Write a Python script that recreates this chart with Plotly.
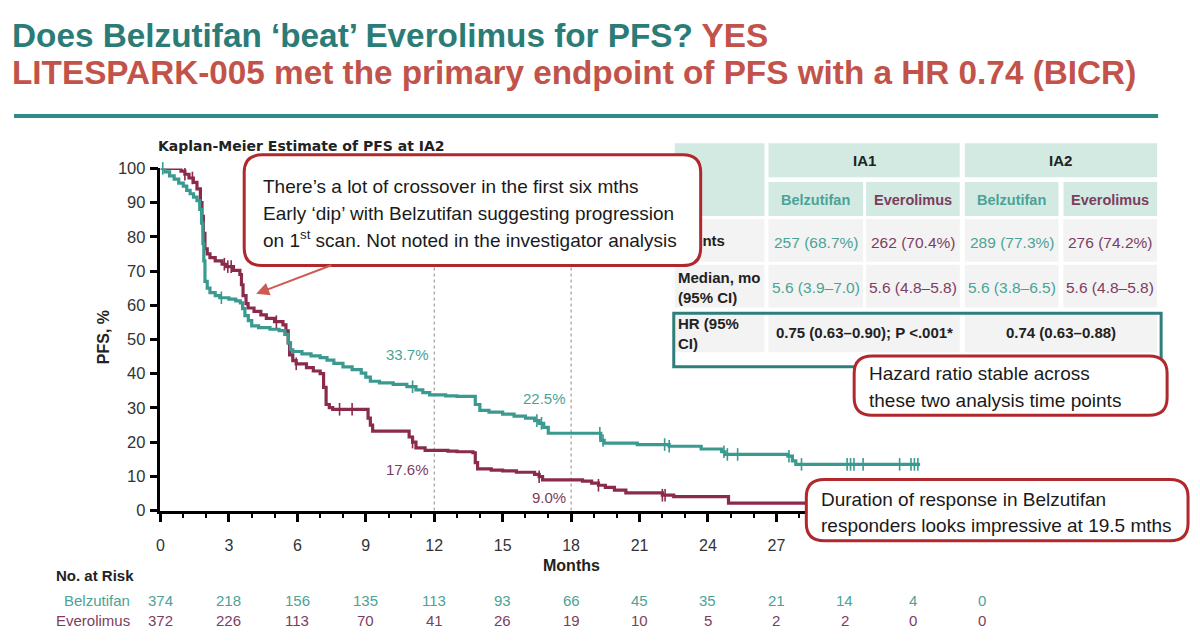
import numpy as np
import plotly.graph_objects as go

# ---------------- data ----------------
belz_t = [0, 0.2, 0.4, 0.6, 0.8, 1.0, 1.15, 1.3, 1.45, 1.6, 1.72, 1.8, 1.86, 1.9, 1.95, 2.05, 2.17,
          2.4, 2.6, 3.0, 3.3, 3.5, 3.6, 3.7, 3.85, 4.0, 4.3, 4.8, 5.2, 5.45, 5.6, 5.7, 5.8, 6.2, 6.6,
          7.0, 7.3, 7.6, 8.0, 8.4, 8.8, 9.0, 9.2, 9.6, 10.2, 10.8, 11.2, 11.5, 11.8, 12.5, 13.0, 13.8,
          14.0, 14.4, 15.0, 15.5, 16.0, 16.4, 16.6, 16.8, 17.0, 19.3, 19.45, 20.9, 22.3, 23.7, 24.6,
          24.75, 27.5, 27.7, 27.85]
belz_s = [100, 99.0, 97.8, 96.9, 95.7, 94.8, 93.6, 92.6, 91.6, 90.6, 88, 84, 78, 73, 67, 65, 63.7,
          62.8, 62.2, 61.8, 61.3, 60.7, 59, 57, 55.5, 54, 53.5, 53.0, 52.6, 51.5, 49, 47, 46.5, 45.8, 45.2,
          44.7, 44.0, 43.0, 42.0, 41.2, 40.2, 39.0, 37.8, 37.3, 36.9, 36.2, 35.3, 34.5, 33.8, 33.5, 33.4, 31,
          29.3, 28.8, 28.2, 27.6, 27.0, 26.3, 25.5, 24.3, 22.6, 20.5, 19.7, 19.3, 18.8, 18.0, 17.2,
          16.4, 15.9, 14.5, 13.5]
belz_end = 33.3

ever_t = [0, 0.9, 1.07, 1.25, 1.44, 1.6, 1.75, 1.82, 1.88, 1.95, 2.05, 2.17, 2.4, 2.7, 2.9, 3.2, 3.48,
          3.55, 3.62, 3.75, 3.84, 4.1, 4.4, 4.64, 5.0, 5.37, 5.5, 5.6, 5.66, 5.8, 5.95, 6.4, 6.7, 7.0,
          7.15, 7.26, 7.4, 7.55, 9.1, 9.2, 9.3, 10.9, 11.05, 11.2, 11.6, 12.6, 13.0, 13.7, 13.8, 13.9,
          14.5, 15.0, 15.6, 16.4, 16.6, 16.75, 18.5, 18.9, 19.2, 19.5, 19.9, 20.4, 22.0, 22.5, 24.9]
ever_s = [100, 99.2, 98.3, 97.2, 95.9, 94, 90, 86, 81, 76.5, 75, 73.9, 73, 72, 71.3, 70.2, 69,
          66, 62.8, 60.5, 59.2, 58.2, 57.2, 56.2, 55.2, 54.3, 52.5, 49, 45.5, 43.8, 42.9, 41.8, 40.8, 40.0,
          36, 31, 30.1, 29.6, 27, 25, 23.2, 21.5, 20, 18.3, 17.6, 17.4, 17.2, 16.9, 14, 12.2,
          11.8, 11.6, 11.2, 10.6, 9.9, 9.0, 8.6, 8.0, 7.4, 6.8, 6.0, 5.2, 4.5, 4.1, 2.2]
ever_end = 31.0

belz_censor = [0.1, 2.67, 11.05, 16.5, 16.7, 19.26, 19.4, 22.1, 22.3, 24.7, 24.85, 25.3, 27.55,
               28.1, 30.1, 30.25, 30.4, 30.8, 32.4, 32.9, 33.05, 33.2]
ever_censor = [1.07, 1.4, 2.8, 2.95, 3.1, 5.08, 5.95, 7.85, 8.4, 11.05, 16.6, 19.2, 22.0, 22.12]

landmark_months = [12, 18]
belz_landmark = ["33.7%", "22.5%"]
ever_landmark = ["17.6%", "9.0%"]

risk_months = [0, 3, 6, 9, 12, 15, 18, 21, 24, 27, 30, 33, 36]
belz_risk = [374, 218, 156, 135, 113, 93, 66, 45, 35, 21, 14, 4, 0]
ever_risk = [372, 226, 113, 70, 41, 26, 19, 10, 5, 2, 2, 0, 0]
axis_labels = ["0", "3", "6", "9", "12", "15", "18", "21", "24", "27", "", "", ""]

table_groups = ["IA1", "IA2"]
table_arms = ["Belzutifan", "Everolimus", "Belzutifan", "Everolimus"]
table_rows = ["Events", "Median, mo<br>(95% CI)", "HR (95%<br>CI)"]
events = ["257 (68.7%)", "262 (70.4%)", "289 (77.3%)", "276 (74.2%)"]
medians = ["5.6 (3.9–7.0)", "5.6 (4.8–5.8)", "5.6 (3.8–6.5)", "5.6 (4.8–5.8)"]
hrs = ["0.75 (0.63–0.90); P <.001*", "0.74 (0.63–0.88)"]

# ---------------- style ----------------
TEAL = "#3a9a90"
TEAL_TXT = "#4aa396"
MAROON = "#8a2a4c"
MAROON_TXT = "#7d3d5f"
TITLE_TEAL = "#2b7c77"
TITLE_RED = "#c2534a"
BOX_RED = "#b0282c"
ARIAL = "Liberation Sans, Arial, sans-serif"
W, H = 1200, 644

fig = go.Figure()


def step_xy(t, s, end):
    return list(t) + [end], list(s) + [s[-1]]


def censor_y(t, s, c):
    idx = np.searchsorted(np.array(t), np.array(c), side="right") - 1
    return [s[i] for i in idx]


for t, s, end, cens, col, name in [
    (ever_t, ever_s, ever_end, ever_censor, MAROON, "Everolimus"),
    (belz_t, belz_s, belz_end, belz_censor, TEAL, "Belzutifan"),
]:
    x, y = step_xy(t, s, end)
    fig.add_trace(go.Scatter(x=x, y=y, mode="lines", line=dict(color=col, width=3.2, shape="hv"),
                             name=name, showlegend=False, cliponaxis=False))
    fig.add_trace(go.Scatter(x=cens, y=censor_y(t, s, cens), mode="markers",
                             marker=dict(symbol="line-ns", size=9, line=dict(color=col, width=1.6)),
                             showlegend=False, cliponaxis=False))

# "Events" row label partially hidden behind the callout box (drawn as a trace so the box can cover it)
fig.add_trace(go.Scatter(x=[674], y=[240], mode="text", text=["<b>" + table_rows[0] + "</b>"],
                         textposition="middle right", textfont=dict(family=ARIAL, size=15, color="#222"),
                         xaxis="x2", yaxis="y2", showlegend=False, cliponaxis=False, hoverinfo="skip"))

x0px, x1px = 157, 981
y0px, y1px = 516, 164
fig.update_layout(
    width=W, height=H, margin=dict(l=0, r=0, t=0, b=0),
    paper_bgcolor="white", plot_bgcolor="rgba(0,0,0,0)",
    xaxis=dict(domain=[x0px / W, x1px / W], range=[0, 36], tickvals=risk_months, ticktext=axis_labels,
               ticks="outside", ticklen=9, tickwidth=2.5, tickcolor="black",
               showline=True, linewidth=2.5, linecolor="black", showgrid=False, zeroline=False,
               tickfont=dict(family=ARIAL, size=16, color="#333"), ticklabelstandoff=9,
               minor=dict(dtick=1, tick0=0, ticks="outside", ticklen=5, tickwidth=2, tickcolor="black"),
               anchor="y", fixedrange=True),
    yaxis=dict(domain=[1 - y0px / H, 1 - y1px / H], range=[0, 100], dtick=10,
               ticks="outside", ticklen=8, tickwidth=2.5, tickcolor="black",
               showline=True, linewidth=2.5, linecolor="black", showgrid=False, zeroline=False,
               tickfont=dict(family=ARIAL, size=16.5, color="#333"), ticklabelstandoff=1,
               anchor="x", fixedrange=True),
    xaxis2=dict(domain=[0, 1], range=[0, W], visible=False, anchor="y2", fixedrange=True),
    yaxis2=dict(domain=[0, 1], range=[H, 0], visible=False, anchor="x2", fixedrange=True),
)

shapes = []
ann = []


def rrect(x0, y0, x1, y1, r):
    return (f"M{x0 + r},{y0} L{x1 - r},{y0} Q{x1},{y0} {x1},{y0 + r} L{x1},{y1 - r} "
            f"Q{x1},{y1} {x1 - r},{y1} L{x0 + r},{y1} Q{x0},{y1} {x0},{y1 - r} "
            f"L{x0},{y0 + r} Q{x0},{y0} {x0 + r},{y0} Z")


def box(x0, y0, x1, y1, layer="below", fill=None, line=None, lw=0):
    shapes.append(dict(type="rect", xref="x2", yref="y2", x0=x0, y0=y0, x1=x1, y1=y1,
                       fillcolor=fill or "rgba(0,0,0,0)", line=dict(color=line or "rgba(0,0,0,0)", width=lw),
                       layer=layer))


def text(x, y, s, size=15, color="#222", family=ARIAL, xanchor="left", bold=False):
    ann.append(dict(x=x, y=y, xref="x2", yref="y2", text=("<b>" + s + "</b>") if bold else s,
                    showarrow=False, xanchor=xanchor, yanchor="middle",
                    font=dict(family=family, size=size, color=color)))


# title + rule
ann.append(dict(x=6, y=27, xref="x2", yref="y2", xanchor="left", yanchor="middle", showarrow=False,
                text=f"<b>Does Belzutifan ‘beat’ Everolimus for PFS? <span style='color:{TITLE_RED}'>YES</span></b>",
                font=dict(family=ARIAL, size=33.3, color=TITLE_TEAL)))
ann.append(dict(x=6, y=65, xref="x2", yref="y2", xanchor="left", yanchor="middle", showarrow=False,
                text="<b>LITESPARK-005 met the primary endpoint of PFS with a HR 0.74 (BICR)</b>",
                font=dict(family=ARIAL, size=33.3, color=TITLE_RED)))
shapes.append(dict(type="line", xref="x2", yref="y2", x0=10, x1=1158, y0=110, y1=110,
                   line=dict(color="#2f8b85", width=4)))

# chart title and axis titles
text(153, 141, "Kaplan-Meier Estimate of PFS at IA2", size=14, family="DejaVu Sans", bold=True, color="#222")
ann.append(dict(x=100, y=338, xref="x2", yref="y2", text="<b>PFS, %</b>", textangle=-90, showarrow=False,
                font=dict(family=ARIAL, size=16, color="#222")))
text(569, 573, "Months", size=16, bold=True, xanchor="center")

# landmark lines + labels
for m in landmark_months:
    shapes.append(dict(type="line", xref="x", yref="y", x0=m, x1=m, y0=0, y1=100, layer="below",
                       line=dict(color="#8a8a8a", width=1, dash="dot")))
belz_lab_y = [45.7, 32.7]
ever_lab_y = [11.9, 3.7]
for i, m in enumerate(landmark_months):
    ann.append(dict(x=m - 0.15, y=belz_lab_y[i], xref="x", yref="y", text=belz_landmark[i], showarrow=False,
                    xanchor="right", font=dict(family=ARIAL, size=15, color=TEAL_TXT)))
    ann.append(dict(x=m - 0.15, y=ever_lab_y[i], xref="x", yref="y", text=ever_landmark[i], showarrow=False,
                    xanchor="right", font=dict(family=ARIAL, size=15, color=MAROON_TXT)))

# number at risk
text(50, 583, "No. at Risk", size=15, bold=True)
text(128, 608, "Belzutifan", size=15, color=TEAL_TXT, xanchor="right")
text(128, 629, "Everolimus", size=15, color=MAROON_TXT, xanchor="right")
for i, m in enumerate(risk_months):
    ann.append(dict(x=m, y=608, xref="x", yref="y2", text=str(belz_risk[i]), showarrow=False,
                    xanchor="center", yanchor="middle", font=dict(family=ARIAL, size=15, color=TEAL_TXT)))
    ann.append(dict(x=m, y=629, xref="x", yref="y2", text=str(ever_risk[i]), showarrow=False,
                    xanchor="center", yanchor="middle", font=dict(family=ARIAL, size=15, color=MAROON_TXT)))

# ---------------- table ----------------
HDR = "#d2eae2"
CELL = "#f3f3f3"
arm_x = [(767, 862), (865, 959), (964, 1058), (1063, 1157)]
grp_x = [(767, 959), (964, 1157)]
box(673, 138, 763, 213, fill=HDR)
for (a, b) in grp_x:
    box(a, 138, b, 173, fill=HDR)
for (a, b) in arm_x:
    box(a, 178, b, 213, fill=HDR)
for (y0, y1) in [(216, 260), (263, 307)]:
    box(673, y0, 763, y1, fill=CELL)
    for (a, b) in arm_x:
        box(a, y0, b, y1, fill=CELL)
box(673, 312, 763, 353, fill=CELL)
for (a, b) in grp_x:
    box(a, 312, b, 353, fill=CELL)

for i, g in enumerate(table_groups):
    text((grp_x[i][0] + grp_x[i][1]) / 2, 156, g, size=15, bold=True, xanchor="center", color="#222")
for i, a in enumerate(table_arms):
    c = TEAL_TXT if a == "Belzutifan" else MAROON_TXT
    cx = (arm_x[i][0] + arm_x[i][1]) / 2
    text(cx, 196, a, size=14.5, bold=True, xanchor="center", color=c)
    text(cx, 240, events[i], size=15.5, xanchor="center", color=c)
    text(cx, 286, medians[i], size=15.5, xanchor="center", color=c)
ann.append(dict(x=674, y=286, xref="x2", yref="y2", text="<b>" + table_rows[1] + "</b>", showarrow=False,
                xanchor="left", yanchor="middle", align="left", font=dict(family=ARIAL, size=15, color="#222")))
ann.append(dict(x=674, y=334, xref="x2", yref="y2", text="<b>" + table_rows[2] + "</b>", showarrow=False,
                xanchor="left", yanchor="middle", align="left", font=dict(family=ARIAL, size=15, color="#222")))
for i, h in enumerate(hrs):
    text((grp_x[i][0] + grp_x[i][1]) / 2, 333, h, size=15, bold=True, xanchor="center", color="#222")

# HR outline
shapes.append(dict(type="rect", xref="x2", yref="y2", x0=672, y0=313, x1=1161, y1=368, layer="above",
                   line=dict(color="#2e7f7b", width=3), fillcolor="rgba(0,0,0,0)"))

# ---------------- callout boxes ----------------
for (bx0, by0, bx1, by1) in [(241, 150, 699, 264), (853, 357, 1167, 418), (805, 484, 1188, 547)]:
    shapes.append(dict(type="path", xref="x2", yref="y2", path=rrect(bx0, by0, bx1, by1, 18),
                       fillcolor="white", line=dict(color=BOX_RED, width=3), layer="above"))

CALL = dict(size=19, family=ARIAL, color="#1a1a1a")
text(258, 183, "There’s a lot of crossover in the first six mths", **CALL)
text(258, 210, "Early ‘dip’ with Belzutifan suggesting progression", **CALL)
text(258, 237, "on 1<sup>st</sup> scan. Not noted in the investigator analysis", **CALL)
text(866, 375, "Hazard ratio stable across", **CALL)
text(866, 403, "these two analysis time points", **CALL)
text(818, 505, "Duration of response in Belzutifan", **CALL)
text(818, 531, "responders looks impressive at 19.5 mths", **CALL)

ann.append(dict(x=253, y=293, xref="x2", yref="y2", ax=330, ay=263, axref="x2", ayref="y2", text="",
                showarrow=True, arrowhead=2, arrowsize=1.3, arrowwidth=2, arrowcolor="#cd5b52"))

fig.update_layout(shapes=shapes, annotations=ann)
fig.write_html("out.html")
